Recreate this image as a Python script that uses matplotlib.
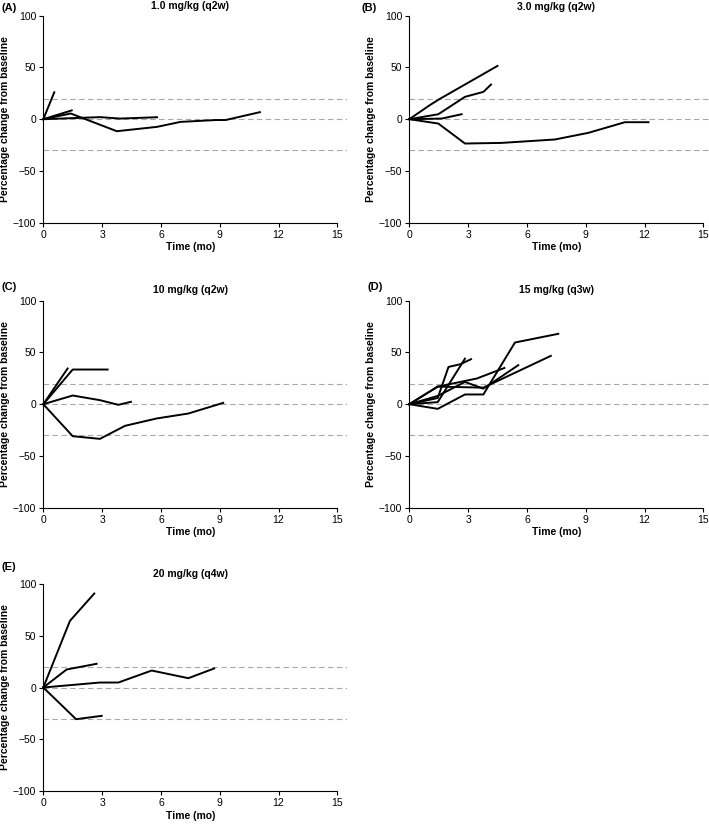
import matplotlib
matplotlib.use('Agg')
import matplotlib.pyplot as plt

plt.rcParams['font.family'] = ['Liberation Sans', 'DejaVu Sans']

# panel A: 1.0 mg/kg (q2w)
a_x = [[0, 0.56], [0, 1.45], [0, 1.4, 3.75, 5.8, 7.0, 8.8, 9.3, 11.05], [0, 2.9, 3.9, 5.8]]
a_y = [[0, 26], [0, 8.5], [0, 5.5, -11.6, -7.4, -2.6, -0.8, -0.8, 6.8], [0, 2, 0.6, 1.9]]

# panel B: 3.0 mg/kg (q2w)
b_x = [[0, 1.0, 1.5, 4.5], [0, 1.48, 2.84, 3.78, 4.17], [0, 1.65, 2.67],
       [0, 1.48, 2.84, 4.71, 7.43, 9.13, 11.0, 12.2]]
b_y = [[0, 13, 19, 51.5], [0, 4.8, 21.6, 26.4, 33.5], [0, 0.6, 4.8],
       [0, -4.2, -23.5, -22.9, -19.6, -13.2, -2.9, -2.9]]

# panel C: 10 mg/kg (q2w)
c_x = [[0, 1.24], [0, 1.5, 3.28], [0, 1.5, 2.89, 3.83, 4.47],
       [0, 1.5, 2.89, 4.17, 5.78, 7.4, 9.18]]
c_y = [[0, 34.5], [0, 33.5, 33.5], [0, 8.4, 3.9, -0.6, 2.3],
       [0, -30.9, -33.5, -20.9, -13.8, -9, 1.3]]

# panel D: 15 mg/kg (q3w)
d_x = [[0, 1.45, 2.84, 3.78, 5.39, 7.6], [0, 1.45, 3.78, 7.22], [0, 1.45, 2.84, 3.78, 5.56],
       [0, 1.45, 3.44, 4.85], [0, 1.45, 2.0, 2.6, 3.15], [0, 1.45, 2.84]]
d_y = [[0, -4.5, 9.4, 9.4, 59.6, 68], [0, 17, 16, 46.7], [0, 8, 21.5, 15, 37.7],
       [0, 17, 24.8, 35], [0, 6, 36, 38.6, 43.5], [0, 2, 44]]

# panel E: 20 mg/kg (q4w)
e_x = [[0, 1.36, 2.6], [0, 1.19, 2.72], [0, 2.89, 3.83, 5.53, 7.4, 8.72], [0, 1.67, 2.98]]
e_y = [[0, 64.4, 90.8], [0, 17.4, 22.9], [0, 4.8, 4.8, 16.4, 9, 18.4], [0, -30.6, -27.4]]

tags = ['(A)', '(B)', '(C)', '(D)', '(E)']
titles = ['1.0 mg/kg (q2w)', '3.0 mg/kg (q2w)', '10 mg/kg (q2w)', '15 mg/kg (q3w)', '20 mg/kg (q4w)']
all_x = [a_x, b_x, c_x, d_x, e_x]
all_y = [a_y, b_y, c_y, d_y, e_y]
ref_lines = [20, 0, -30]

W, H = 709, 825
fig = plt.figure(figsize=(W / 100, H / 100), dpi=100)

# pixel positions of x=0 and y=100 for each panel
lefts = [43.3, 409.3, 43.3, 409.3, 43.3]
tops = [15.7, 15.7, 300.7, 300.7, 584.0]
tag_pos = [(2, 8), (362, 8), (2, 287), (367, 287), (2, 567)]
title_y = [6, 7, 290, 290, 574]
px_per_unit = 19.6
span = 15.5
ax_h = 207.0

for i in range(5):
    left = lefts[i]
    top = tops[i]
    ax = fig.add_axes([left / W, (H - top - ax_h) / H, px_per_unit * span / W, ax_h / H])
    for yv in ref_lines:
        ax.axhline(yv, color='#a8a8a8', lw=0.8, ls=(0, (5, 3)), zorder=1)
    for x, y in zip(all_x[i], all_y[i]):
        ax.plot(x, y, color='black', lw=1.4, zorder=3, clip_on=False)
    ax.set_xlim(0, span)
    ax.set_ylim(-100, 100)
    ax.set_xticks([0, 3, 6, 9, 12, 15])
    ax.set_yticks([-100, -50, 0, 50, 100])
    ax.set_yticklabels(['\u2212100', '\u221250', '0', '50', '100'])
    for s in ['top', 'right']:
        ax.spines[s].set_visible(False)
    ax.spines['bottom'].set_bounds(0, 15)
    ax.spines['left'].set_linewidth(0.8)
    ax.spines['bottom'].set_linewidth(0.8)
    ax.tick_params(direction='out', length=3, width=0.8, labelsize=7.5, pad=2)
    ax.set_ylabel('Percentage change from baseline', fontsize=7.5, fontweight='bold')
    ax.yaxis.set_label_coords(-0.108, 0.5)
    ax.set_xlabel('Time (mo)', fontsize=7.5, fontweight='bold')
    ax.xaxis.set_label_coords(7.5 / span, -0.095)
    # title centred over the 0-15 range
    fig.text((left + px_per_unit * 7.5) / W, 1 - title_y[i] / H, titles[i],
             ha='center', va='center', fontsize=7.5, fontweight='bold')
    fig.text(tag_pos[i][0] / W, 1 - tag_pos[i][1] / H, tags[i],
             ha='left', va='center', fontsize=8, fontweight='bold')

fig.savefig('out.png', dpi=100)
